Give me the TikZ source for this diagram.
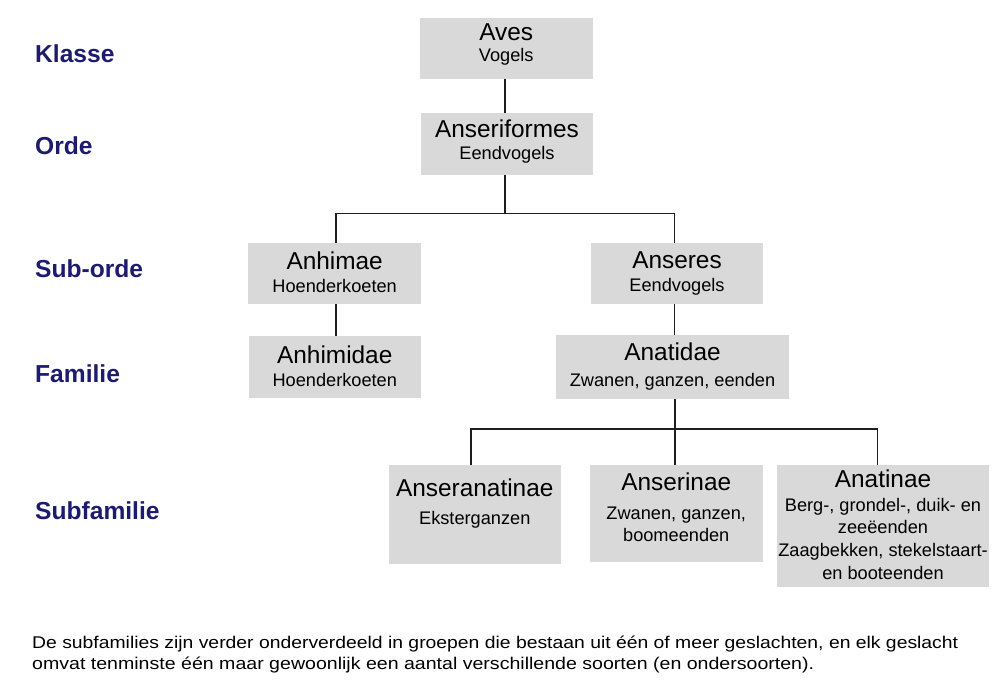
\documentclass[tikz,border=0pt]{standalone}
\usepackage{fontspec}
\setmainfont{Liberation Sans}
\usepackage{graphicx}
\definecolor{boxgray}{RGB}{217,217,217}
\definecolor{rankblue}{RGB}{28,27,110}
\definecolor{linegray}{RGB}{30,30,30}
\begin{document}
\begin{tikzpicture}[x=1pt,y=-1pt,
  box/.style={fill=boxgray, draw=none, inner sep=0pt, outer sep=0pt},
  maintext/.style={anchor=base, inner sep=0pt, font=\fontsize{24.4}{28}\selectfont},
  subtext/.style={anchor=base, inner sep=0pt, font=\fontsize{18.2}{22}\selectfont},
  rank/.style={anchor=base west, inner sep=0pt, text=rankblue, font=\fontsize{24.6}{28}\selectfont\bfseries},
  conn/.style={draw=linegray, line width=1.2pt}]
\useasboundingbox (0,0) rectangle (1000,687);

% rank labels
\node[rank] (rKlasse) at (35,62.7) {Klasse};
\node[rank] (rOrde) at (35,154.3) {Orde};
\node[rank] (rSuborde) at (35,277.3) {Sub-orde};
\node[rank] (rFamilie) at (35,382.7) {Familie};
\node[rank] (rSubfam) at (35,519.3) {Subfamilie};

% boxes
\node[box, minimum width=172.5pt, minimum height=61pt] (aves) at (506.25,48.8) {};
\node[box, minimum width=172.6pt, minimum height=61.7pt] (anseriformes) at (507,144.15) {};
\node[box, minimum width=172.7pt, minimum height=61.5pt] (anhimae) at (334.65,273.25) {};
\node[box, minimum width=172pt, minimum height=61.5pt] (anseres) at (677,273.25) {};
\node[box, minimum width=172.5pt, minimum height=62.3pt] (anhimidae) at (334.75,367.15) {};
\node[box, minimum width=233pt, minimum height=64pt] (anatidae) at (672.5,367) {};
\node[box, minimum width=172.5pt, minimum height=99pt] (anseranatinae) at (474.75,514.5) {};
\node[box, minimum width=172.5pt, minimum height=97.8pt] (anserinae) at (676.25,513.4) {};
\node[box, minimum width=212pt, minimum height=122.2pt] (anatinae) at (883,525.6) {};

% box texts
\node[maintext] (tAves) at (506.25,41) {Aves};
\node[subtext] (sAves) at (506.25,62) {Vogels};
\node[maintext] (tAnseriformes) at (507,138) {Anseriformes};
\node[subtext] (sAnseriformes) at (507,159.3) {Eendvogels};
\node[maintext] (tAnhimae) at (334.65,269.3) {Anhimae};
\node[subtext] (sAnhimae) at (334.65,292.3) {Hoenderkoeten};
\node[maintext] (tAnseres) at (677,268.8) {Anseres};
\node[subtext] (sAnseres) at (677,291.2) {Eendvogels};
\node[maintext] (tAnhimidae) at (334.75,363.3) {Anhimidae};
\node[subtext] (sAnhimidae) at (334.75,386.7) {Hoenderkoeten};
\node[maintext] (tAnatidae) at (672.5,360) {Anatidae};
\node[subtext] (sAnatidae) at (672.5,386) {Zwanen, ganzen, eenden};
\node[maintext] (tAnseranatinae) at (474.75,496.7) {Anseranatinae};
\node[subtext] (sAnseranatinae) at (474.75,524.3) {Eksterganzen};
\node[maintext] (tAnserinae) at (676.25,490) {Anserinae};
\node[subtext] (sAnserinaeA) at (676.25,519.3) {Zwanen, ganzen,};
\node[subtext] (sAnserinaeB) at (676.25,541.7) {boomeenden};
\node[maintext] (tAnatinae) at (883,487.7) {Anatinae};
\node[subtext] (sAnatinaeA) at (883,511.7) {Berg-, grondel-, duik- en};
\node[subtext] (sAnatinaeB) at (883,533.3) {zeeëenden};
\node[subtext] (sAnatinaeC) at (883,556.7) {Zaagbekken, stekelstaart-};
\node[subtext] (sAnatinaeD) at (883,579.3) {en booteenden};

% connectors
\coordinate (j1) at (505,213.3);
\coordinate (bus1L) at (336,213.3);
\coordinate (bus1R) at (674.5,213.3);
\coordinate (bus2L) at (471,429);
\coordinate (bus2M) at (675,429);
\coordinate (bus2R) at (877.7,429);

\draw[conn] (j1 |- aves.south) -- (j1 |- anseriformes.north);
\draw[conn] (j1 |- anseriformes.south) -- (j1);
\draw[conn] (bus1L |- anhimae.north) -- (bus1L) -- (bus1R) -- (bus1R |- anseres.north);
\draw[conn] (bus1L |- anhimae.south) -- (bus1L |- anhimidae.north);
\draw[conn] (bus1R |- anseres.south) -- (bus1R |- anatidae.north);
\draw[conn] (bus2M |- anatidae.south) -- (bus2M |- anserinae.north);
\draw[conn] (bus2L |- anseranatinae.north) -- (bus2L) -- (bus2R) -- (bus2R |- anatinae.north);

% footnote
\node[anchor=base west, inner sep=0pt, font=\fontsize{17}{21}\selectfont] (note) at (32,648.5)
  {\begin{tabular}[t]{@{}l@{}}\resizebox{926pt}{\height}{De subfamilies zijn verder onderverdeeld in groepen die bestaan uit één of meer geslachten, en elk geslacht}\\
  \resizebox{782pt}{\height}{omvat tenminste één maar gewoonlijk een aantal verschillende soorten (en ondersoorten).}\end{tabular}};
\end{tikzpicture}
\end{document}
